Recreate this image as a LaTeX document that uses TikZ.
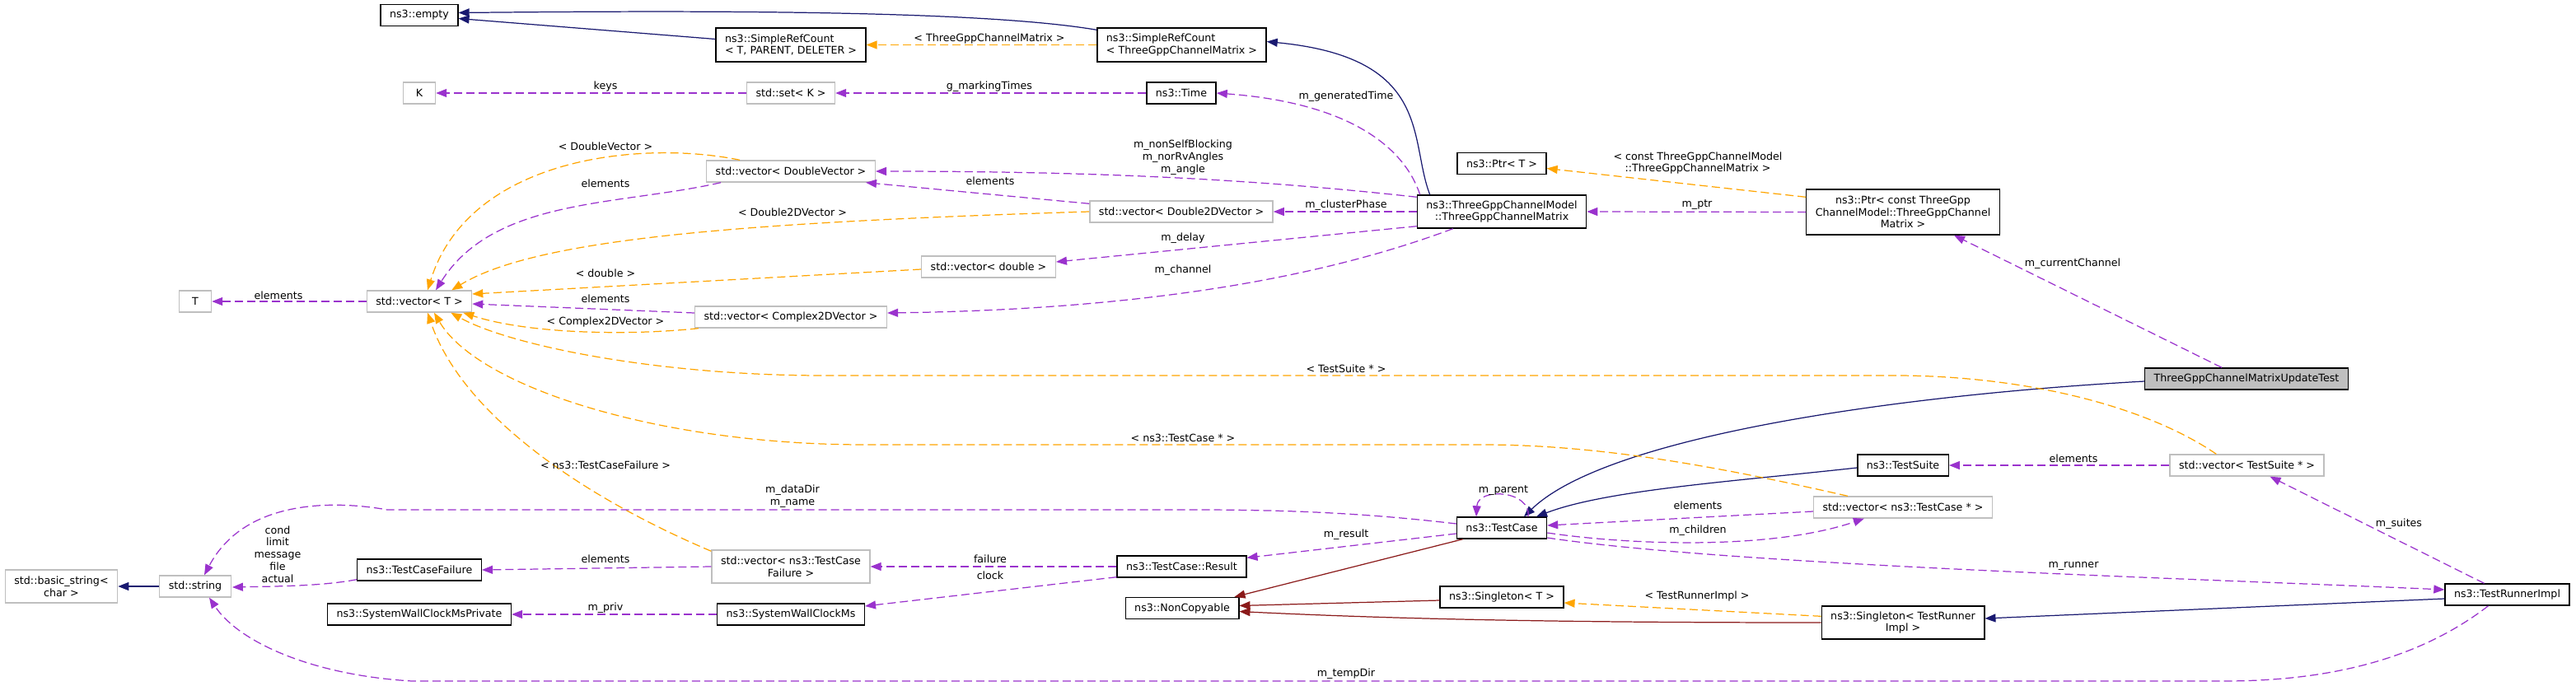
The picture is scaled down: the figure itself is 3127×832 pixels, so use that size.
\documentclass[tikz,border=0pt]{standalone}
\usepackage{fontspec}
\setmainfont{DejaVu Sans}
\usepackage{tikz}
\usetikzlibrary{arrows.meta,calc}
\usepackage{xcolor}
\definecolor{usepurple}{HTML}{9A32CD}
\definecolor{tmplorange}{HTML}{FFA500}
\definecolor{inhnavy}{HTML}{191970}
\definecolor{privred}{HTML}{8B1A1A}
\definecolor{boxgray}{HTML}{BFBFBF}
\definecolor{curgray}{HTML}{BFBFBF}
\newcommand{\dxfont}{\fontsize{7.2pt}{8.4pt}\selectfont}

\begin{document}
\begin{tikzpicture}[x=0.02cm, y=-0.02cm, >={Triangle[length=0.26cm,width=0.2cm]},
  cls/.style={draw=black, line width=0.8pt, fill=white, font=\dxfont, inner xsep=0.22cm, inner ysep=0pt, minimum height=0.52cm},
  ext/.style={cls, draw=boxgray},
  cur/.style={cls, fill=curgray},
  lbl/.style={font=\dxfont, text=black, inner sep=0pt, align=center},
  link/.style={line width=0.7pt, ->},
  uses/.style={link, usepurple, dash pattern=on 0.2cm off 0.1cm},
  tmpl/.style={link, tmplorange, dash pattern=on 0.2cm off 0.1cm},
  inh/.style={link, inhnavy},
  priv/.style={link, privred}]
  \useasboundingbox[fill=white] (0,0) rectangle (3127,832);

  % classes
  \node[cls] (empty) at (509,18.5) {ns3::empty};
  \node[cls, align=left, minimum height=0.82cm] (srcTPD) at (960,54.5) {ns3::SimpleRefCount\\< T, PARENT, DELETER >};
  \node[cls, align=left, minimum height=0.82cm] (srcTGCM) at (1434.5,54.5) {ns3::SimpleRefCount\\< ThreeGppChannelMatrix >};
  \node[ext, minimum width=0.78cm] (K) at (509,113) {K};
  \node[ext] (setK) at (960,113) {std::set< K >};
  \node[cls] (time) at (1434,113) {ns3::Time};
  \node[ext] (vecDV) at (960,208) {std::vector< DoubleVector >};
  \node[cls] (ptrT) at (1823,198.5) {ns3::Ptr< T >};
  \node[ext, minimum width=0.78cm] (T) at (237,366) {T};
  \node[ext] (vecT) at (509,366) {std::vector< T >};
  \node[ext] (vecD2D) at (1434,257) {std::vector< Double2DVector >};
  \node[cls, align=center, minimum height=0.8cm] (tgcm) at (1823,257) {ns3::ThreeGppChannelModel\\::ThreeGppChannelMatrix};
  \node[cls, align=center, minimum height=1.1cm] (ptrConst) at (2310,257.5) {ns3::Ptr< const ThreeGpp\\ChannelModel::ThreeGppChannel\\Matrix >};
  \node[ext] (vecDbl) at (1200,324) {std::vector< double >};
  \node[ext] (vecC2D) at (960,385) {std::vector< Complex2DVector >};
  \node[cur] (updTest) at (2727,460) {ThreeGppChannelMatrixUpdateTest};
  \node[cls] (testSuite) at (2310,565) {ns3::TestSuite};
  \node[ext] (vecTS) at (2727.5,565) {std::vector< TestSuite * >};
  \node[ext] (vecTC) at (2310,616) {std::vector< ns3::TestCase * >};
  \node[cls] (testCase) at (1823,641) {ns3::TestCase};
  \node[ext, align=center, minimum height=0.8cm] (bstr) at (74.5,712) {std::basic\_string<\\char >};
  \node[ext] (str) at (237,712) {std::string};
  \node[cls] (tcf) at (509,692) {ns3::TestCaseFailure};
  \node[ext, align=center, minimum height=0.8cm] (vecTCF) at (960,688) {std::vector< ns3::TestCase\\Failure >};
  \node[cls] (result) at (1434.5,688) {ns3::TestCase::Result};
  \node[cls] (swcmP) at (509,746) {ns3::SystemWallClockMsPrivate};
  \node[cls] (swcm) at (960,746) {ns3::SystemWallClockMs};
  \node[cls] (nonCopy) at (1435,738.5) {ns3::NonCopyable};
  \node[cls] (singT) at (1823,725) {ns3::Singleton< T >};
  \node[cls, align=center, minimum height=0.8cm] (singTRI) at (2310,756) {ns3::Singleton< TestRunner\\Impl >};
  \node[cls] (runner) at (3043.5,722) {ns3::TestRunnerImpl};

  % inheritance
  \draw[inh] ($(srcTGCM.north west)+(0,3)$) .. controls (1200,14) and (900,12) .. ($(empty.east)+(0,-3)$);
  \draw[inh] ($(srcTPD.west)+(0,-7)$) -- ($(empty.east)+(0,4)$);
  \draw[inh] ($(tgcm.north west)+(16,0)$) .. controls (1710,170) and (1740,70) .. ($(srcTGCM.east)+(0,-4)$);
  \draw[inh] ($(updTest.west)+(0,3)$) .. controls (2300,480) and (1950,530) .. ($(testCase.north)+(27,0)$);
  \draw[inh] ($(testSuite.west)+(0,3)$) .. controls (2100,585) and (1950,595) .. ($(testCase.north)+(42,0)$);
  \draw[inh] (str.west) -- (bstr.east);
  \draw[inh] ($(runner.west)+(0,5)$) -- ($(singTRI.east)+(0,-5)$);
  \draw[priv] ($(testCase.south west)+(8,0)$) -- ($(nonCopy.north east)+(-6,0)$);
  \draw[priv] ($(singT.west)+(0,4)$) -- ($(nonCopy.east)+(0,-3)$);
  \draw[priv] (singTRI.west) .. controls (1900,756) and (1700,752) .. ($(nonCopy.east)+(0,4)$);

  % template instances
  \draw[tmpl] (srcTGCM.west) -- (srcTPD.east) node[lbl] (lSrc) at (1201,47) {< ThreeGppChannelMatrix >};
  \draw[tmpl] ($(vecDV.north west)+(41,0)$) .. controls (780,170) and (570,190) .. ($(vecT.north)+(10,0)$)
    node[lbl] (lDV) at (735,178) {< DoubleVector >};
  \draw[tmpl] (vecD2D.west) .. controls (900,270) and (650,290) .. ($(vecT.north east)+(-25,0)$)
    node[lbl] (lD2D) at (962,258) {< Double2DVector >};
  \draw[tmpl] ($(vecDbl.west)+(0,3)$) -- ($(vecT.east)+(0,-9)$) node[lbl] (lDbl) at (735,332) {< double >};
  \draw[tmpl] ($(vecC2D.south west)+(5,0)$) .. controls (760,408) and (640,405) .. ($(vecT.south east)+(-11,0)$)
    node[lbl] (lC2D) at (735,391) {< Complex2DVector >};
  \draw[tmpl] ($(vecTS.north west)+(57,0)$) .. controls (2600,490) and (2450,456) .. (2300,456) -- (1000,456)
    .. controls (800,456) and (620,420) .. ($(vecT.south east)+(-26,0)$)
    node[lbl] (lTS) at (1634,448) {< TestSuite * >};
  \draw[tmpl] ($(vecTC.north west)+(42,0)$) .. controls (2100,570) and (1950,540) .. (1800,540) -- (1050,540)
    .. controls (800,540) and (580,470) .. ($(vecT.south)+(18,0)$)
    node[lbl] (lTC) at (1436,532) {< ns3::TestCase * >};
  \draw[tmpl] ($(vecTCF.north west)+(0,2)$) .. controls (700,600) and (560,500) .. ($(vecT.south)+(10,0)$)
    node[lbl] (lTCF) at (735,565) {< ns3::TestCaseFailure >};
  \draw[tmpl] ($(ptrConst.north west)+(0,10)$) -- ($(ptrT.east)+(0,6)$)
    node[lbl] (lPtr) at (2061,198) {< const ThreeGppChannelModel\\::ThreeGppChannelMatrix >};
  \draw[tmpl] ($(singTRI.north west)+(0,13)$) -- ($(singT.east)+(0,7)$) node[lbl] (lSing) at (2060,724) {< TestRunnerImpl >};

  % members
  \draw[uses] (setK.west) -- (K.east) node[lbl] (lKeys) at (735,105) {keys};
  \draw[uses] (time.west) -- (setK.east) node[lbl] (lMark) at (1201,105) {g\_markingTimes};
  \draw[uses] ($(tgcm.north west)+(4,0)$) .. controls (1705,180) and (1640,125) .. (time.east)
    node[lbl] (lGen) at (1634,117) {m\_generatedTime};
  \draw[uses] ($(tgcm.north west)+(0,3)$) .. controls (1500,215) and (1300,208) .. (vecDV.east)
    node[lbl] (lAng) at (1436,191) {m\_nonSelfBlocking\\m\_norRvAngles\\m\_angle};
  \draw[uses] ($(vecD2D.north west)+(0,4)$) -- ($(vecDV.south east)+(-12,0)$) node[lbl] (lEl1) at (1202,220) {elements};
  \draw[uses] (tgcm.west) -- (vecD2D.east) node[lbl] (lClu) at (1634,249) {m\_clusterPhase};
  \draw[uses] ($(tgcm.south west)+(0,-3)$) -- ($(vecDbl.east)+(0,-6)$) node[lbl] (lDel) at (1436,289) {m\_delay};
  \draw[uses] ($(tgcm.south west)+(44,0)$) .. controls (1650,320) and (1450,375) .. ($(vecC2D.east)+(0,-5)$)
    node[lbl] (lCha) at (1436,328) {m\_channel};
  \draw[uses] ($(vecDV.south west)+(18,0)$) .. controls (750,250) and (600,240) .. ($(vecT.north)+(20,0)$)
    node[lbl] (lEl2) at (735,223) {elements};
  \draw[uses] ($(vecC2D.west)+(0,-5)$) -- ($(vecT.east)+(0,3)$) node[lbl] (lEl3) at (735,363) {elements};
  \draw[uses] (vecT.west) -- (T.east) node[lbl] (lEl4) at (338,359) {elements};
  \draw[uses] (ptrConst.west) -- (tgcm.east) node[lbl] (lPtrM) at (2060,249) {m\_ptr};
  \draw[uses] ($(updTest.north)+(-30,0)$) -- ($(ptrConst.south)+(62,0)$) node[lbl] (lCur) at (2516,320) {m\_currentChannel};
  \draw[uses] (vecTS.west) -- (testSuite.east) node[lbl] (lEl5) at (2517,557) {elements};
  \draw[uses] ($(testCase.east)+(0,6)$) .. controls (1980,662) and (2150,668) .. ($(vecTC.south west)+(62,0)$)
    node[lbl] (lChi) at (2061,644) {m\_children};
  \draw[uses] ($(vecTC.west)+(0,5)$) -- ($(testCase.east)+(0,-3)$) node[lbl] (lEl6) at (2061,614) {elements};
  \draw[uses] ($(testCase.north)+(32,0)$) .. controls +(4,-32) and +(2,-36) .. ($(testCase.north)+(-31,0)$)
    node[lbl] (lPar) at (1825,596) {m\_parent};
  \draw[uses] ($(testCase.west)+(0,-5)$) .. controls (1650,622) and (1550,619) .. (1450,619) -- (470,619)
    .. controls (420,610) and (300,600) .. ($(str.north)+(11,0)$)
    node[lbl] (lDir) at (962,603) {m\_dataDir\\m\_name};
  \draw[uses] ($(testCase.west)+(0,7)$) -- ($(result.north east)+(0,3)$) node[lbl] (lRes) at (1634,649) {m\_result};
  \draw[uses] (result.west) -- (vecTCF.east) node[lbl] (lFail) at (1202,679) {failure};
  \draw[uses] ($(result.south west)+(0,-1)$) -- ($(swcm.east)+(0,-10)$) node[lbl] (lClk) at (1202,699) {clock};
  \draw[uses] (swcm.west) -- (swcmP.east) node[lbl] (lPriv) at (735,738) {m\_priv};
  \draw[uses] (vecTCF.west) -- (tcf.east) node[lbl] (lEl7) at (735,679) {elements};
  \draw[uses] ($(tcf.south west)+(0,-2)$) .. controls (390,712) and (330,712) .. ($(str.east)+(1,1)$)
    node[lbl] (lCond) at (337,673) {cond\\limit\\message\\file\\actual};
  \draw[uses] ($(testCase.east)+(0,12)$) .. controls (2100,686) and (2650,702) .. ($(runner.west)+(0,-6)$)
    node[lbl] (lRun) at (2517,687) {m\_runner};
  \draw[uses] ($(runner.north)+(-28,0)$) -- ($(vecTS.south)+(28,0)$) node[lbl] (lSui) at (2912,636) {m\_suites};
  \draw[uses] ($(runner.south)+(-23,0)$) .. controls (2950,790) and (2850,827) .. (2700,827) -- (500,827)
    .. controls (380,820) and (290,780) .. ($(str.south)+(17,0)$)
    node[lbl] (lTmp) at (1634,818) {m\_tempDir};
\end{tikzpicture}
\end{document}
